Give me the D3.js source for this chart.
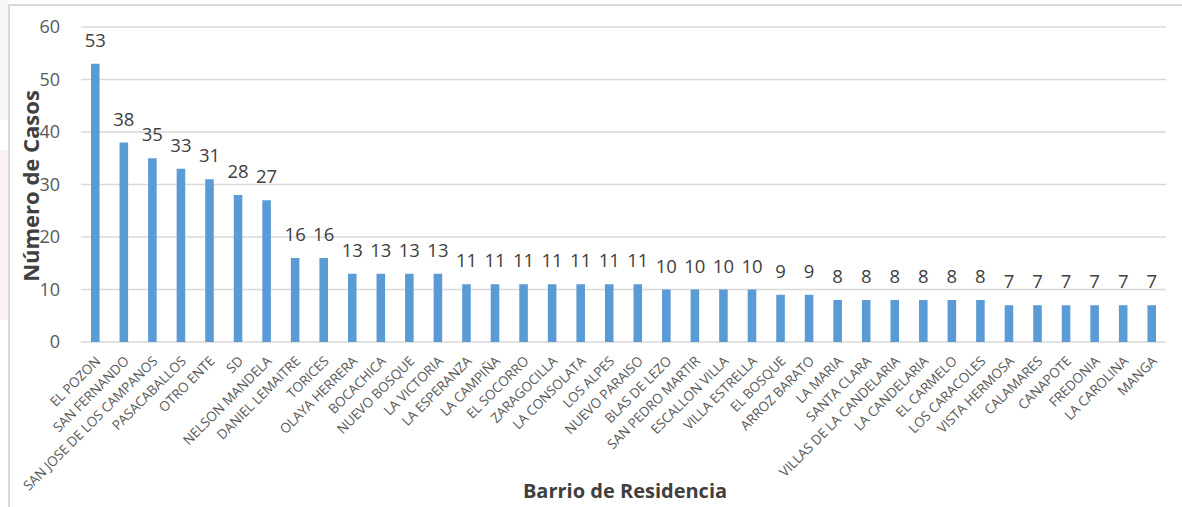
<!DOCTYPE html>
<html>
<head>
<meta charset="utf-8">
<script src="https://cdn.jsdelivr.net/npm/d3@7"></script>
<style>
  body { margin: 0; background: #fff; }
  svg { display: block; font-family: "Open Sans", "Liberation Sans", sans-serif; }
</style>
</head>
<body>
<div id="chart"></div>
<script>
var barrios = ["EL POZON", "SAN FERNANDO", "SAN JOSE DE LOS CAMPANOS", "PASACABALLOS", "OTRO ENTE", "SD",
  "NELSON MANDELA", "DANIEL LEMAITRE", "TORICES", "OLAYA HERRERA", "BOCACHICA", "NUEVO BOSQUE",
  "LA VICTORIA", "LA ESPERANZA", "LA CAMPIÑA", "EL SOCORRO", "ZARAGOCILLA", "LA CONSOLATA",
  "LOS ALPES", "NUEVO PARAISO", "BLAS DE LEZO", "SAN PEDRO MARTIR", "ESCALLON VILLA", "VILLA ESTRELLA",
  "EL BOSQUE", "ARROZ BARATO", "LA MARIA", "SANTA CLARA", "VILLAS DE LA CANDELARIA", "LA CANDELARIA",
  "EL CARMELO", "LOS CARACOLES", "VISTA HERMOSA", "CALAMARES", "CANAPOTE", "FREDONIA",
  "LA CAROLINA", "MANGA"];
var casos = [53, 38, 35, 33, 31, 28, 27, 16, 16, 13, 13, 13, 13, 11, 11, 11, 11, 11, 11, 11,
  10, 10, 10, 10, 9, 9, 8, 8, 8, 8, 8, 8, 7, 7, 7, 7, 7, 7];
var yTicks = [0, 10, 20, 30, 40, 50, 60];

var width = 1182, height = 507;
var margin = { top: 27, right: 16, bottom: 165, left: 81 };

var svg = d3.select("#chart").append("svg")
  .attr("width", width)
  .attr("height", height);

svg.append("rect").attr("width", width).attr("height", height).attr("fill", "#fff");

// faint slide background showing at the left edge
svg.append("rect").attr("x", 0).attr("y", 0).attr("width", 8).attr("height", 120).attr("fill", "#f3f8f3");
svg.append("rect").attr("x", 0).attr("y", 150).attr("width", 8).attr("height", 170).attr("fill", "#fcf2f2");

// outer frame of the chart area
svg.append("path")
  .attr("d", "M9," + height + "V5H" + width)
  .attr("fill", "none")
  .attr("stroke", "#d9d9d9")
  .attr("stroke-width", 2);

var x = d3.scaleBand()
  .domain(barrios)
  .range([margin.left, width - margin.right])
  .paddingInner(0.7)
  .paddingOuter(0.35);

var y = d3.scaleLinear()
  .domain([0, 60])
  .range([height - margin.bottom, margin.top]);

// grid
svg.append("g")
  .selectAll("line")
  .data(yTicks)
  .join("line")
  .attr("x1", margin.left)
  .attr("x2", width - margin.right)
  .attr("y1", d => y(d))
  .attr("y2", d => y(d))
  .attr("stroke", "#d9d9d9")
  .attr("stroke-width", 1.3);

// y axis labels
var yAxis = svg.append("g")
  .attr("transform", "translate(" + (margin.left - 21) + ",0)")
  .call(d3.axisLeft(y).tickValues(yTicks).tickSize(0).tickPadding(0));
yAxis.select(".domain").remove();
yAxis.selectAll("text")
  .attr("font-family", "Open Sans, sans-serif")
  .attr("font-size", 18)
  .attr("fill", "#595959");

// bars
svg.append("g")
  .selectAll("rect")
  .data(casos)
  .join("rect")
  .attr("x", (d, i) => x(barrios[i]))
  .attr("y", d => y(d))
  .attr("width", x.bandwidth())
  .attr("height", d => y(0) - y(d))
  .attr("fill", "#5b9bd5");

// value labels
svg.append("g")
  .selectAll("text")
  .data(casos)
  .join("text")
  .attr("x", (d, i) => x(barrios[i]) + x.bandwidth() / 2)
  .attr("y", d => y(d) - 17)
  .attr("text-anchor", "middle")
  .attr("font-size", 18.5)
  .attr("fill", "#404040")
  .text(d => d);

// x axis labels
var xAxis = svg.append("g")
  .attr("transform", "translate(0," + y(0) + ")")
  .call(d3.axisBottom(x).tickSize(0).tickPadding(0));
xAxis.select(".domain").remove();
xAxis.selectAll("text")
  .attr("font-family", "Open Sans, sans-serif")
  .attr("font-size", 13.5)
  .attr("letter-spacing", -0.1)
  .attr("fill", "#595959")
  .attr("text-anchor", "end")
  .attr("dy", 0)
  .attr("transform", "translate(6,20) rotate(-45)");

// axis titles
svg.append("text")
  .attr("transform", "translate(39,186) rotate(-90)")
  .attr("text-anchor", "middle")
  .attr("font-size", 22)
  .attr("font-weight", "bold")
  .attr("fill", "#404040")
  .text("Número de Casos");

svg.append("text")
  .attr("x", 625)
  .attr("y", 498)
  .attr("text-anchor", "middle")
  .attr("font-size", 20)
  .attr("font-weight", "bold")
  .attr("fill", "#404040")
  .text("Barrio de Residencia");
</script>
</body>
</html>
